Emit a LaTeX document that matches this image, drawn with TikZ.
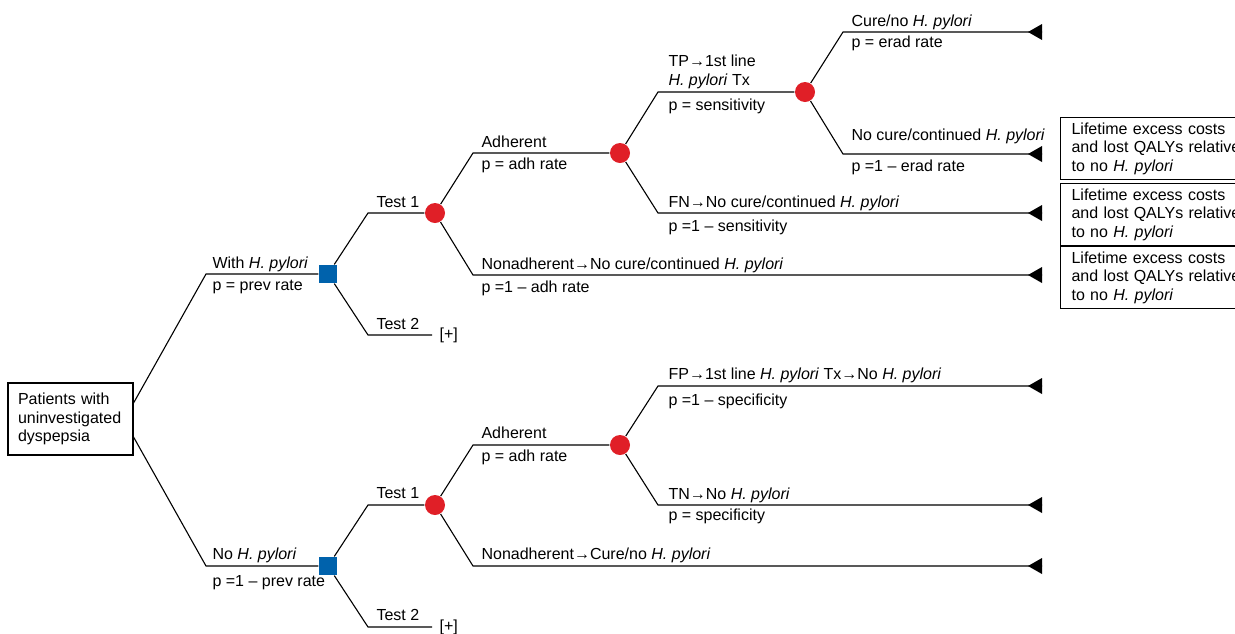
\documentclass[tikz,border=0pt]{standalone}
\usepackage{fontspec}
\setmainfont{Liberation Sans}
\definecolor{dblue}{HTML}{0062AC}
\definecolor{dred}{HTML}{E01F27}
\begin{document}
\begin{tikzpicture}[x=1pt,y=-1pt,line width=1.1pt,
  every node/.style={font=\fontsize{16}{18.5}\selectfont},
  lbl/.style={anchor=base west,inner sep=0pt},
  chance/.style={circle,fill=dred,minimum size=20pt,inner sep=0pt},
  decision/.style={rectangle,fill=dblue,minimum size=18pt,inner sep=0pt},
  termbox/.style={draw,anchor=north west,minimum height=62pt,text width=180pt,align=left,inner xsep=11pt,inner ysep=0pt},
  plusnode/.style={anchor=west,inner xsep=7pt,inner ysep=0pt}]
\useasboundingbox (0,0) rectangle (1235,633);
% root
\node[draw,minimum width=125pt,minimum height=72pt,text width=105pt,align=left,inner sep=0pt] (root) at (70.5,419) {Patients with\\uninvestigated\\dyspepsia};
% coordinates
\coordinate (eh) at (206,274);
\coordinate (enh) at (206,566);
\coordinate (et1) at (368,213);
\coordinate (et2) at (368,335);
\coordinate (ea) at (473,153);
\coordinate (en) at (473,275);
\coordinate (tn) at (1042,275);
\coordinate (etp) at (658,92);
\coordinate (efn) at (658,213);
\coordinate (tfn) at (1042,213);
\coordinate (ecu) at (843,32);
\coordinate (tcu) at (1042,32);
\coordinate (enc) at (843,154);
\coordinate (tnc) at (1042,154);
\coordinate (et1b) at (368,505);
\coordinate (et2b) at (368,627);
\coordinate (eab) at (473,445);
\coordinate (enb) at (473,566);
\coordinate (tnb) at (1042,566);
\coordinate (efp) at (658,386);
\coordinate (tfp) at (1042,386);
\coordinate (etn) at (658,505);
\coordinate (ttn) at (1042,505);
% nodes
\node[decision] (sq1) at (328,274) {};
\node[decision] (sq2) at (328,566) {};
\node[chance] (c1) at (435,213) {};
\node[chance] (c2) at (620,153) {};
\node[chance] (c3) at (805,92) {};
\node[chance] (c4) at (435,505) {};
\node[chance] (c5) at (620,445) {};
\node[plusnode] (p1) at (432,335) {[+]};
\node[plusnode] (p2) at (432,627) {[+]};
% connectors
\draw ([yshift=16pt]root.east) -- (eh) -- (sq1);
\draw ([yshift=-18pt]root.east) -- (enh) -- (sq2);
\draw (sq1) -- (et1) -- (c1);
\draw (sq1) -- (et2) -- (p1.west);
\draw (c1) -- (ea) -- (c2);
\draw (c1) -- (en) -- (tn);
\draw (c2) -- (etp) -- (c3);
\draw (c2) -- (efn) -- (tfn);
\draw (c3) -- (ecu) -- (tcu);
\draw (c3) -- (enc) -- (tnc);
\draw (sq2) -- (et1b) -- (c4);
\draw (sq2) -- (et2b) -- (p2.west);
\draw (c4) -- (eab) -- (c5);
\draw (c4) -- (enb) -- (tnb);
\draw (c5) -- (efp) -- (tfp);
\draw (c5) -- (etn) -- (ttn);
% terminal triangles
\foreach \t in {tn,tfn,tcu,tnc,tnb,tfp,ttn}
  \fill (\t) ++(0,-8) -- ++(0,16) -- ++(-14,-8) -- cycle;
% labels
\node[lbl] (l1) at (212,268) {With \textit{H. pylori}};
\node[lbl] (l2) at (212,290) {p = prev rate};
\node[lbl] (l3) at (376,207) {Test 1};
\node[lbl] (l4) at (376,329) {Test 2};
\node[lbl] (l5) at (481,147) {Adherent};
\node[lbl] (l6) at (481,169) {p = adh rate};
\node[lbl] (l7) at (481,269) {Nonadherent→No cure/continued \textit{H. pylori}};
\node[lbl] (l8) at (481,292) {p =1 – adh rate};
\node[lbl] (l9) at (668,66) {TP→1st line};
\node[lbl] (l10) at (668,85) {\textit{H. pylori} Tx};
\node[lbl] (l11) at (668,110) {p = sensitivity};
\node[lbl] (l12) at (668,207) {FN→No cure/continued \textit{H. pylori}};
\node[lbl] (l13) at (668,231) {p =1 – sensitivity};
\node[lbl] (l14) at (851,26) {Cure/no \textit{H. pylori}};
\node[lbl] (l15) at (851,47) {p = erad rate};
\node[lbl] (l16) at (851,140) {No cure/continued \textit{H. pylori}};
\node[lbl] (l17) at (851,171) {p =1 – erad rate};
\node[lbl] (l18) at (212,559) {No \textit{H. pylori}};
\node[lbl] (l19) at (212,586) {p =1 – prev rate};
\node[lbl] (l20) at (376,498) {Test 1};
\node[lbl] (l21) at (376,620) {Test 2};
\node[lbl] (l22) at (481,438) {Adherent};
\node[lbl] (l23) at (481,461) {p = adh rate};
\node[lbl] (l24) at (481,559) {Nonadherent→Cure/no \textit{H. pylori}};
\node[lbl] (l25) at (668,379) {FP→1st line \textit{H. pylori} Tx→No \textit{H. pylori}};
\node[lbl] (l26) at (668,405) {p =1 – specificity};
\node[lbl] (l27) at (668,499) {TN→No \textit{H. pylori}};
\node[lbl] (l28) at (668,520) {p = specificity};
% outcome boxes
\node[termbox] (b1) at (1060,117) {Lifetime excess costs\\and lost QALYs relative\\to no \textit{H. pylori}};
\node[termbox] (b2) at (1060,183) {Lifetime excess costs\\and lost QALYs relative\\to no \textit{H. pylori}};
\node[termbox] (b3) at (1060,246) {Lifetime excess costs\\and lost QALYs relative\\to no \textit{H. pylori}};
\end{tikzpicture}
\end{document}
